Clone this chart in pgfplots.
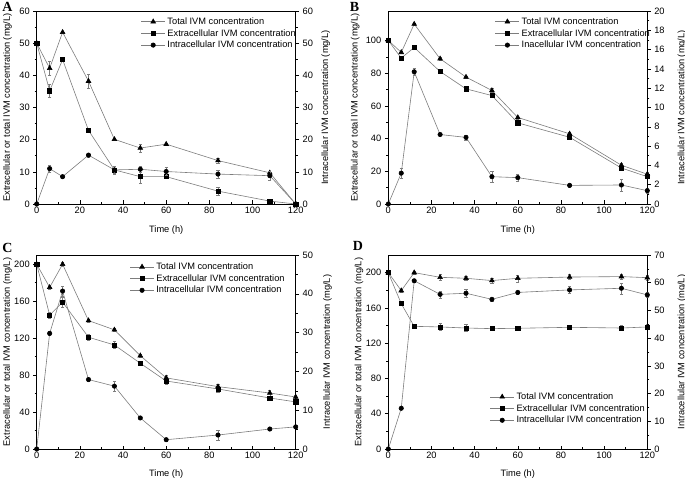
\documentclass[border=0pt]{standalone}
\usepackage{pgfplots}
\pgfplotsset{compat=1.18}
\usepackage{fontspec}
\setmainfont{Liberation Sans}
\newfontfamily\lserif{Liberation Serif}
\newcommand\fs{\fontsize{9.3}{11}\selectfont}
\definecolor{ln}{RGB}{125,125,125}
\pgfplotsset{
 cbase/.style={scale only axis, width=259bp, height=193bp, xmin=0, xmax=120, ymin=0,
   font=\fs, tick label style={font=\fs}, label style={font=\fs},
   /pgf/number format/assume math mode=true, clip=false,
   axis line style={line width=0.6pt}, tick style={line width=0.5pt, black},
   major tick length=3.5bp, minor tick length=2bp, minor y tick num=1},
 cleft/.style={cbase, xtick={0,20,...,120}, minor x tick num=1, xtick pos=bottom, ytick pos=left,
   xlabel={Time (h)}, ylabel={Extracellular or total IVM concentration (mg/L)},
   tick align=outside, xtick align=inside},
 cright/.style={cbase, axis x line=none, axis y line*=right, tick align=outside,
   ylabel={Intracellular IVM concentration (mg/L)},
   legend style={draw=none, fill=none, font=\fs, cells={anchor=west}, row sep=0.5bp, nodes={inner ysep=1.5bp}},
   legend image code/.code={\draw[mark repeat=2,mark phase=2,##1] plot coordinates {(0bp,0bp) (12bp,0bp) (24bp,0bp)};}},
 ser/.style={ln, line width=0.6pt, mark options={black, fill=black, solid}},
 tot/.style={ser, mark=triangle*, mark size=2.7bp},
 ext/.style={ser, mark=square*, mark size=2.1bp},
 int/.style={ser, mark=*, mark size=2.2bp},
 eb/.style={error bars/.cd, y dir=both, y explicit, error bar style={ln, line width=0.4pt}, error mark options={rotate=90, mark size=1.6bp, ln, line width=0.4pt}},
}
\begin{document}
\begin{tikzpicture}
\path[use as bounding box] (0bp,0bp) rectangle (685bp,481bp);
% ---------- Panel A ----------
\begin{axis}[cleft, at={(36.7bp,277bp)}, anchor=south west, ymax=60, ytick={0,10,...,60},
  ylabel style={at={(axis description cs:-0.113,0.5)}, anchor=center},
  xlabel style={at={(axis description cs:0.5,-0.135)}, anchor=center}]
\addplot[tot, eb] table[y error=e] {
x y e
0 50 0
6 42.2 2.2
12 53.4 0.4
24 38.2 2.3
36 20.1 0.4
48 17.4 1.3
60 18.6 0.4
84 13.5 0.8
108 9.7 0.5
120 0 0
};
\addplot[ext, eb] table[y error=e] {
x y e
0 50 0
6 35.2 2.1
12 44.9 0.4
24 22.9 0.5
36 10.6 1.0
48 8.5 2.0
60 8.5 0.5
84 4.0 1.2
108 0.9 0.3
120 0 0
};
\end{axis}
\begin{axis}[cright, at={(36.7bp,277bp)}, anchor=south west, ymax=60, ytick={0,10,...,60},
  ylabel style={at={(axis description cs:1.116,0.5)}, anchor=center},
  legend style={at={(axis description cs:0.39,0.985)}, anchor=north west}]
\addlegendimage{tot}\addlegendentry{Total IVM concentration}
\addlegendimage{ext}\addlegendentry{Extracellular IVM concentration}
\addplot[int, eb] table[y error=e] {
x y e
0 0 0
6 11.0 1.2
12 8.5 0.4
24 15.2 0.5
36 10.6 1.3
48 10.8 0.8
60 10.1 1.3
84 9.3 1.3
108 8.8 1.3
120 0 0
};
\addlegendentry{Intracellular IVM concentration}
\end{axis}
% ---------- Panel B ----------
\begin{axis}[cleft, at={(388.3bp,277bp)}, anchor=south west, ymax=118, ytick={0,20,...,100},
  ylabel style={at={(axis description cs:-0.128,0.5)}, anchor=center},
  xlabel style={at={(axis description cs:0.5,-0.135)}, anchor=center}]
\addplot[tot, eb] table[y error=e] {
x y e
0 100 0
6 92.7 0.8
12 110 0.8
24 88.8 0.8
36 77.6 0.8
48 69.4 1.2
60 52.9 1
84 42.9 1
108 23.7 1
120 18.2 1
};
\addplot[ext, eb] table[y error=e] {
x y e
0 100 0
6 89.2 1
12 95.7 1
24 81.0 0.8
36 70.4 1
48 66.3 1
60 49.6 1
84 40.8 1
108 22.0 1
120 16.7 1
};
\end{axis}
\begin{axis}[cright, at={(388.3bp,277bp)}, anchor=south west, ymax=20, ytick={0,2,...,20},
  ylabel style={at={(axis description cs:1.134,0.5)}, anchor=center},
  legend style={at={(axis description cs:0.40,0.985)}, anchor=north west}]
\addlegendimage{tot}\addlegendentry{Total IVM concentration}
\addlegendimage{ext}\addlegendentry{Extracellular IVM concentration}
\addplot[int, eb] table[y error=e] {
x y e
0 0 0
6 3.2 0.5
12 13.7 0.4
24 7.2 0.1
36 6.9 0.25
48 2.83 0.55
60 2.73 0.35
84 1.93 0.15
108 1.97 0.6
120 1.38 0.3
};
\addlegendentry{Inacellular IVM concentration}
\end{axis}
% ---------- Panel C ----------
\begin{axis}[cleft, at={(36.7bp,32bp)}, anchor=south west, height=194bp, ymax=210, ytick={0,40,...,200},
  ylabel style={at={(axis description cs:-0.113,0.5)}, anchor=center},
  xlabel style={at={(axis description cs:0.5,-0.129)}, anchor=center}]
\addplot[tot, eb] table[y error=e] {
x y e
0 200 0
6 175 2
12 200 2
24 139 2
36 129 2
48 101 2
60 77 3
84 67.5 3
108 60.6 3
120 56.3 2
};
\addplot[ext, eb] table[y error=e] {
x y e
0 200 0
6 145 3
12 159 5
24 121 3
36 112.6 4
48 92.8 2
60 73.6 3
84 65 3
108 55.2 2
120 51 2
};
\end{axis}
\begin{axis}[cright, at={(36.7bp,32bp)}, anchor=south west, height=194bp, ymax=50, ytick={0,10,...,50},
  ylabel style={at={(axis description cs:1.123,0.5)}, anchor=center},
  legend style={at={(axis description cs:0.347,0.979)}, anchor=north west}]
\addlegendimage{tot}\addlegendentry{Total IVM concentration}
\addlegendimage{ext}\addlegendentry{Extracellular IVM concentration}
\addplot[int, eb] table[y error=e] {
x y e
0 0 0
6 29.8 0.5
12 40.7 1.3
24 17.9 0.3
36 16.2 1.4
48 8.0 0.3
60 2.4 0.3
84 3.6 1.3
108 5.15 0.3
120 5.7 0.3
};
\addlegendentry{Intracellular IVM concentration}
\end{axis}
% ---------- Panel D ----------
\begin{axis}[cleft, at={(388.3bp,32bp)}, anchor=south west, height=194bp, ymax=220, ytick={0,40,...,200},
  ylabel style={at={(axis description cs:-0.113,0.5)}, anchor=center},
  xlabel style={at={(axis description cs:0.5,-0.129)}, anchor=center}]
\addplot[tot, eb] table[y error=e] {
x y e
0 200 0
6 179.6 2
12 200 2
24 194.7 3
36 193.6 2
48 191 3
60 193.6 4
84 195 3
108 195.5 3
120 194.3 3
};
\addplot[ext, eb] table[y error=e] {
x y e
0 200 0
6 164.8 2
12 139.1 2
24 138.4 4
36 137.2 4
48 136.5 2
60 136.9 2
84 138 2
108 137.2 3
120 138.4 3
};
\end{axis}
\begin{axis}[cright, at={(388.3bp,32bp)}, anchor=south west, height=194bp, ymax=70, ytick={0,10,...,70},
  ylabel style={at={(axis description cs:1.134,0.5)}, anchor=center},
  legend style={at={(axis description cs:0.38,0.309)}, anchor=north west}]
\addlegendimage{tot}\addlegendentry{Total IVM concentration}
\addlegendimage{ext}\addlegendentry{Extracellular IVM concentration}
\addplot[int, eb] table[y error=e] {
x y e
0 0 0
6 14.7 0.3
12 60.7 0.5
24 55.8 1.3
36 56.2 1.3
48 54.0 0.5
60 56.5 0.5
84 57.4 1.3
108 58.0 2.0
120 55.6 1
};
\addlegendentry{Intracellular IVM concentration}
\end{axis}
% ---------- Panel letters ----------
\node[font=\lserif\bfseries\fontsize{14}{14}\selectfont] at (7.5bp,474bp) {A};
\node[font=\lserif\bfseries\fontsize{14}{14}\selectfont] at (354.5bp,474bp) {B};
\node[font=\lserif\bfseries\fontsize{14}{14}\selectfont] at (7.5bp,233.5bp) {C};
\node[font=\lserif\bfseries\fontsize{14}{14}\selectfont] at (358bp,235.5bp) {D};
\end{tikzpicture}
\end{document}
